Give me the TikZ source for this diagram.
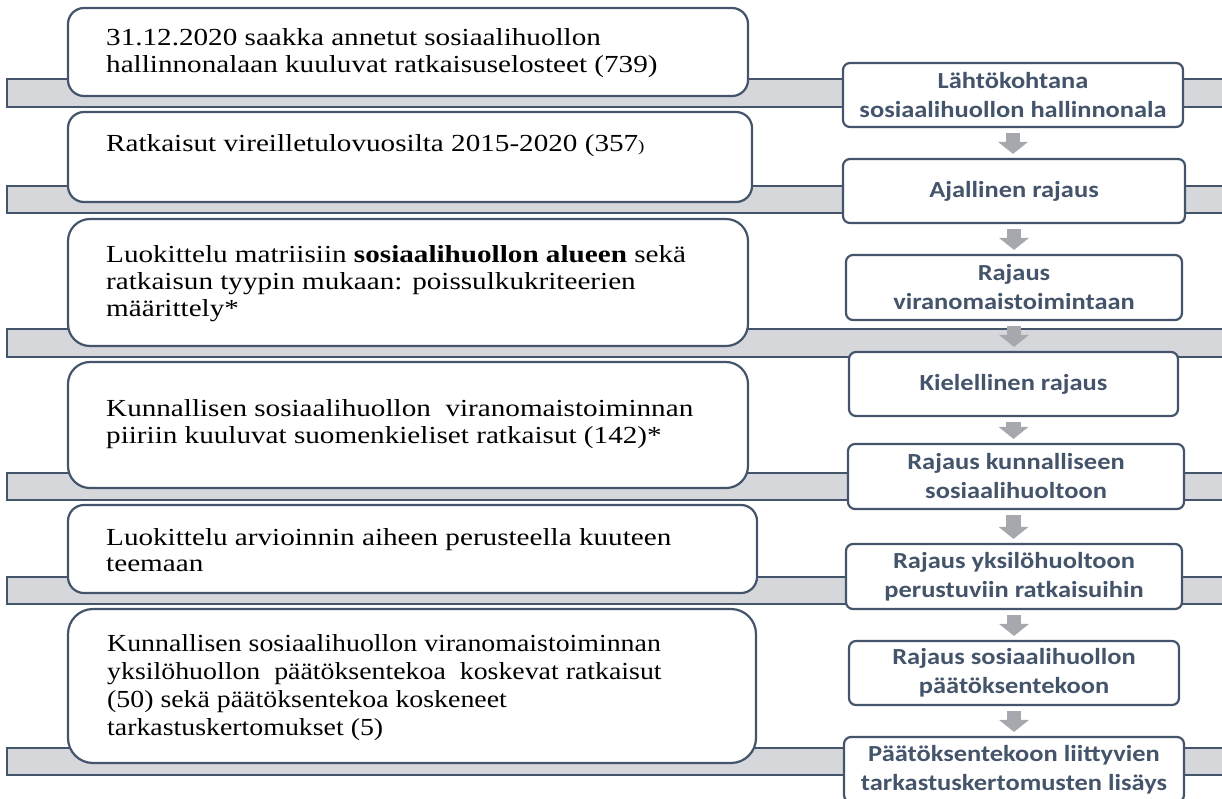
\documentclass[tikz,border=0pt]{standalone}
\usepackage{fontspec}
\usepackage{graphicx}
\setmainfont{Liberation Serif}[FakeStretch=1.19]
\newfontfamily\boxsans{Carlito}[FakeStretch=1.15]
\usetikzlibrary{arrows.meta,calc}
\definecolor{slate}{RGB}{68,84,106}
\definecolor{bandgrey}{RGB}{214,215,219}
\definecolor{arrowgrey}{RGB}{166,168,174}
\newcommand{\narrowline}[1]{\scalebox{0.955}[1]{#1}}
\tikzset{
  band/.style={fill=bandgrey, draw=slate, line width=2pt},
  lbox/.style={draw=slate, fill=white, line width=2.2pt, inner sep=0pt},
  rbox/.style={draw=slate, fill=white, line width=2.2pt, rounded corners=7pt, align=center,
    text=slate, font=\boxsans\bfseries\fontsize{23}{29}\selectfont, inner sep=0pt},
  ltext/.style={anchor=base west, inner sep=0pt, font=\fontsize{24.5}{27.5}\selectfont},
  flowarrow/.style={arrowgrey, line width=14.5pt,
    -{Triangle[width=30pt,length=12pt,line width=0pt]}, shorten <=5pt, shorten >=4pt},
}
\begin{document}
\begin{tikzpicture}[x=1pt,y=-1pt]
\useasboundingbox (0,0) rectangle (1222,798);
% bands
\path[band] (7,79) rectangle (1240,107);
\path[band] (7,186) rectangle (1240,213);
\path[band] (7,329) rectangle (1240,357);
\path[band] (7,473) rectangle (1240,500);
\path[band] (7,577) rectangle (1240,604);
\path[band] (7,748) rectangle (1240,775);
% left boxes
\node[lbox, rounded corners=16pt, minimum width=680pt, minimum height=88pt] (L1) at (408,52) {};
\node[lbox, rounded corners=16pt, minimum width=684pt, minimum height=90pt] (L2) at (410,157) {};
\node[lbox, rounded corners=22pt, minimum width=680pt, minimum height=127pt] (L3) at (408,282.5) {};
\node[lbox, rounded corners=22pt, minimum width=680pt, minimum height=126pt] (L4) at (408,425) {};
\node[lbox, rounded corners=16pt, minimum width=689pt, minimum height=88pt] (L5) at (412.5,549) {};
\node[lbox, rounded corners=25pt, minimum width=688pt, minimum height=154pt] (L6) at (412,686) {};
% left texts
\node[ltext] (t1a) at (106,45) {31.12.2020 saakka annetut sosiaalihuollon};
\node[ltext] (t1b) at (106,72) {hallinnonalaan kuuluvat ratkaisuselosteet (739)};
\node[ltext] (t2a) at (106,151) {Ratkaisut vireilletulovuosilta 2015-2020 (357{\fontsize{16}{16}\selectfont)}};
\node[ltext] (t3a) at (106,262) {Luokittelu matriisiin \textbf{sosiaalihuollon alueen} sekä};
\node[ltext] (t3b) at (106,289) {ratkaisun tyypin mukaan: poissulkukriteerien};
\node[ltext] (t3c) at (106,316) {määrittely*};
\node[ltext] (t4a) at (106,416) {Kunnallisen sosiaalihuollon\ \ viranomaistoiminnan};
\node[ltext] (t4b) at (106,443) {piiriin kuuluvat suomenkieliset ratkaisut (142)*};
\node[ltext] (t5a) at (106,545) {Luokittelu arvioinnin aiheen perusteella kuuteen};
\node[ltext] (t5b) at (106,571) {teemaan};
\node[ltext] (t6a) at (107,651) {\narrowline{Kunnallisen sosiaalihuollon viranomaistoiminnan}};
\node[ltext] (t6b) at (107,679) {\narrowline{yksilöhuollon\ \ päätöksentekoa\ \ koskevat ratkaisut}};
\node[ltext] (t6c) at (107,707) {\narrowline{(50) sekä päätöksentekoa koskeneet}};
\node[ltext] (t6d) at (107,735) {\narrowline{tarkastuskertomukset (5)}};
% right boxes
\node[rbox, minimum width=340pt, minimum height=64pt] (R1) at (1013,95) {Lähtökohtana\\sosiaalihuollon hallinnonala};
\node[rbox, minimum width=342pt, minimum height=64pt] (R2) at (1014,191) {Ajallinen rajaus};
\node[rbox, minimum width=336pt, minimum height=65pt] (R3) at (1014,287.5) {Rajaus\\viranomaistoimintaan};
\node[rbox, minimum width=329pt, minimum height=64pt] (R4) at (1013.5,384) {Kielellinen rajaus};
\node[rbox, minimum width=336pt, minimum height=65pt] (R5) at (1016,476.5) {Rajaus kunnalliseen\\sosiaalihuoltoon};
\node[rbox, minimum width=336pt, minimum height=65pt] (R6) at (1014,576.5) {Rajaus yksilöhuoltoon\\perustuviin ratkaisuihin};
\node[rbox, minimum width=330pt, minimum height=64pt] (R7) at (1014,673) {Rajaus sosiaalihuollon\\päätöksentekoon};
\node[rbox, minimum width=340pt, minimum height=65pt] (R8) at (1014,769.5) {Päätöksentekoon liittyvien\\tarkastuskertomusten lisäys};
% arrows
\draw[flowarrow] (R1.south) -- (R1.south |- R2.north);
\draw[flowarrow] (R2.south) -- (R2.south |- R3.north);
\draw[flowarrow] (R3.south) -- (R3.south |- R4.north);
\draw[flowarrow] (R4.south) -- (R4.south |- R5.north);
\draw[flowarrow] (R5.south -| R4.south) -- (R4.south |- R6.north);
\draw[flowarrow] (R6.south) -- (R6.south |- R7.north);
\draw[flowarrow] (R7.south) -- (R7.south |- R8.north);
\end{tikzpicture}
\end{document}
